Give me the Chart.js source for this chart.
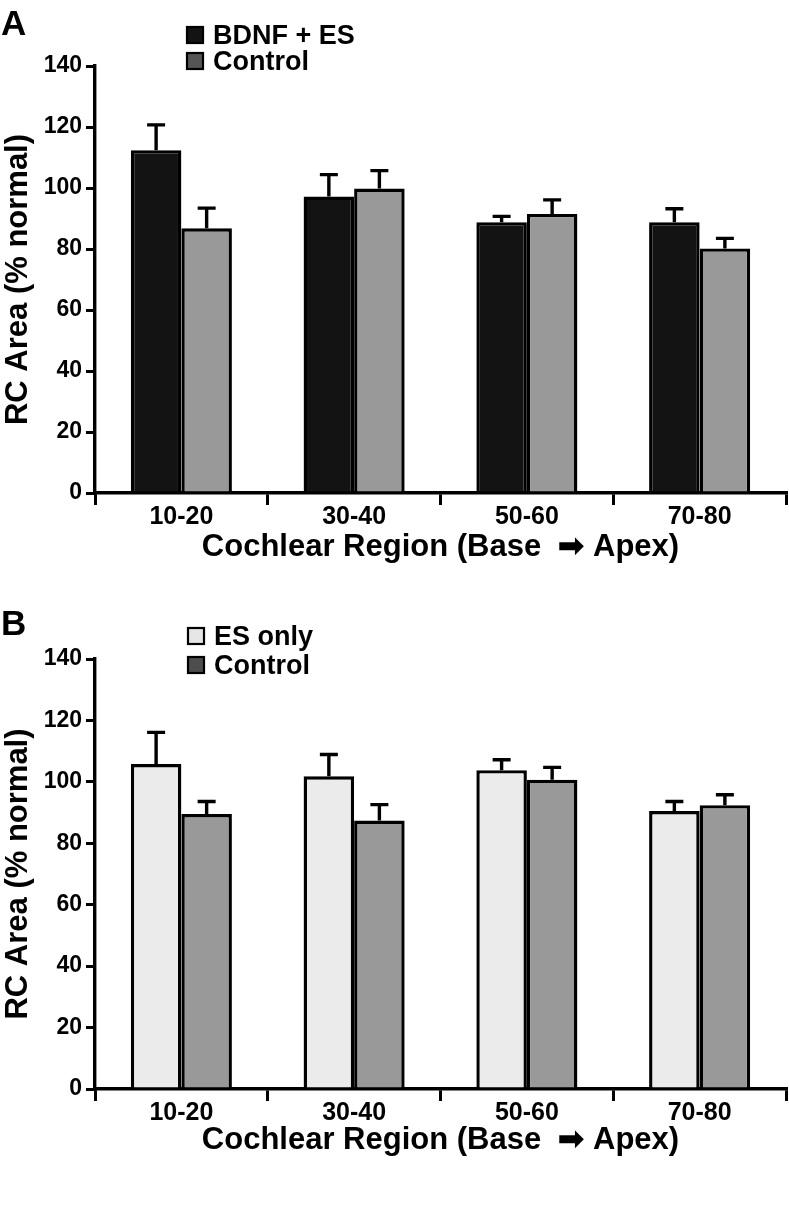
<!DOCTYPE html>
<html>
<head>
<meta charset="utf-8">
<script src="https://cdn.jsdelivr.net/npm/chart.js@4"></script>
<style>
  html, body { margin: 0; padding: 0; background: #fff; }
  .panel { position: absolute; left: 0; }
</style>
</head>
<body>
<canvas id="chartA" class="panel" width="789" height="580" style="top:0px"></canvas>
<canvas id="chartB" class="panel" width="789" height="580" style="top:591px"></canvas>
<script>
// data
const categories = ['10-20', '30-40', '50-60', '70-80'];
const bdnfEs = [112.4, 97.2, 88.8, 88.8];
const bdnfEsErr = [8.3, 7.2, 1.9, 4.4];
const controlA = [86.8, 99.8, 91.5, 80.2];
const controlAErr = [6.6, 5.9, 4.6, 3.3];
const esOnly = [105.8, 101.8, 103.8, 90.5];
const esOnlyErr = [10.3, 7.1, 3.4, 3.1];
const controlB = [89.5, 87.4, 100.7, 92.4];
const controlBErr = [4.1, 5.2, 4.0, 3.4];
const yMin = 0, yMax = 140, yStep = 20;

const FONT = '"Liberation Sans", Arial, Helvetica, sans-serif';

// upper-only error bars with a cap
const errorBars = {
  id: 'errorBars',
  afterDatasetsDraw(chart) {
    const { ctx } = chart;
    const y = chart.scales.y;
    ctx.save();
    ctx.strokeStyle = '#000';
    ctx.lineWidth = 3.4;
    chart.data.datasets.forEach((ds, i) => {
      const meta = chart.getDatasetMeta(i);
      meta.data.forEach((bar, j) => {
        const top = y.getPixelForValue(ds.data[j] + ds.errors[j]);
        ctx.beginPath();
        ctx.moveTo(bar.x, bar.y);
        ctx.lineTo(bar.x, top);
        ctx.moveTo(bar.x - 9, top);
        ctx.lineTo(bar.x + 9, top);
        ctx.stroke();
      });
    });
    ctx.restore();
  }
};

// panel letter + stacked legend in the upper left
const panelLegend = {
  id: 'panelLegend',
  afterDraw(chart, args, opts) {
    const { ctx } = chart;
    ctx.save();
    ctx.fillStyle = '#000';
    ctx.font = 'bold 35px ' + FONT;
    ctx.textBaseline = 'alphabetic';
    ctx.fillText(opts.letter, 1, opts.letterY);
    ctx.font = 'bold 27px ' + FONT;
    chart.data.datasets.forEach((ds, i) => {
      const top = opts.y + i * opts.rowGap;
      ctx.fillStyle = ds.legendColor;
      ctx.fillRect(opts.x, top, 16, 16);
      ctx.strokeStyle = '#000';
      ctx.lineWidth = 2.2;
      ctx.strokeRect(opts.x, top, 16, 16);
      ctx.fillStyle = '#000';
      ctx.fillText(ds.label, opts.x + 26, top + 16.5);
    });
    ctx.restore();
  }
};

function makePanel(id, sets, geo) {
  return new Chart(document.getElementById(id), {
    type: 'bar',
    data: {
      labels: categories,
      datasets: sets.map(s => ({
        label: s.label,
        data: s.data,
        errors: s.errors,
        legendColor: s.legendColor,
        backgroundColor: s.color,
        borderColor: '#000',
        borderWidth: 3.4,
        borderSkipped: 'bottom',
        categoryPercentage: 0.585,
        barPercentage: 1.0
      }))
    },
    options: {
      responsive: false,
      animation: false,
      devicePixelRatio: 1,
      layout: { padding: { top: geo.top, right: 3, left: 0, bottom: 0 } },
      plugins: {
        legend: { display: false },
        tooltip: { enabled: false },
        panelLegend: geo.legend
      },
      scales: {
        x: {
          offset: true,
          grid: { offset: true, drawOnChartArea: false, drawTicks: true, tickLength: 12, lineWidth: 3, color: '#000' },
          border: { display: true, width: 3.4, color: '#000' },
          ticks: { color: '#000', padding: 0, font: { family: FONT, size: 25, weight: 'bold', lineHeight: 1.0 } },
          title: {
            display: true,
            text: 'Cochlear Region (Base  \u27A1 Apex)',
            color: '#000',
            font: { family: FONT, size: 31, weight: 'bold', lineHeight: 1.2 },
            padding: { top: 0, bottom: geo.titlePad }
          },
          afterFit(scale) { scale.height = geo.xHeight; }
        },
        y: {
          min: yMin,
          max: yMax,
          grid: { drawOnChartArea: false, drawTicks: true, tickLength: 9, lineWidth: 3, color: '#000' },
          border: { display: true, width: 3.4, color: '#000' },
          ticks: { stepSize: yStep, color: '#000', padding: 4, font: { family: FONT, size: 23, weight: 'bold' } },
          title: {
            display: true,
            text: 'RC Area (% normal)',
            color: '#000',
            font: { family: FONT, size: 31, weight: 'bold', lineHeight: 1.2 },
            padding: { top: 0, bottom: 0 }
          },
          afterFit(scale) { scale.width = 95; }
        }
      }
    },
    plugins: [errorBars, panelLegend]
  });
}

makePanel('chartA', [
  { label: 'BDNF + ES', data: bdnfEs, errors: bdnfEsErr, color: '#131313', legendColor: '#131313' },
  { label: 'Control', data: controlA, errors: controlAErr, color: '#999999', legendColor: '#555555' }
], { top: 66, xHeight: 87, titlePad: 14, legend: { letter: 'A', letterY: 35, x: 187, y: 27, rowGap: 26 } });

makePanel('chartB', [
  { label: 'ES only', data: esOnly, errors: esOnlyErr, color: '#ebebeb', legendColor: '#e6e6e6' },
  { label: 'Control', data: controlB, errors: controlBErr, color: '#999999', legendColor: '#4d4d4d' }
], { top: 68, xHeight: 82, titlePad: 12, legend: { letter: 'B', letterY: 44, x: 188, y: 37, rowGap: 29 } });
</script>
</body>
</html>
